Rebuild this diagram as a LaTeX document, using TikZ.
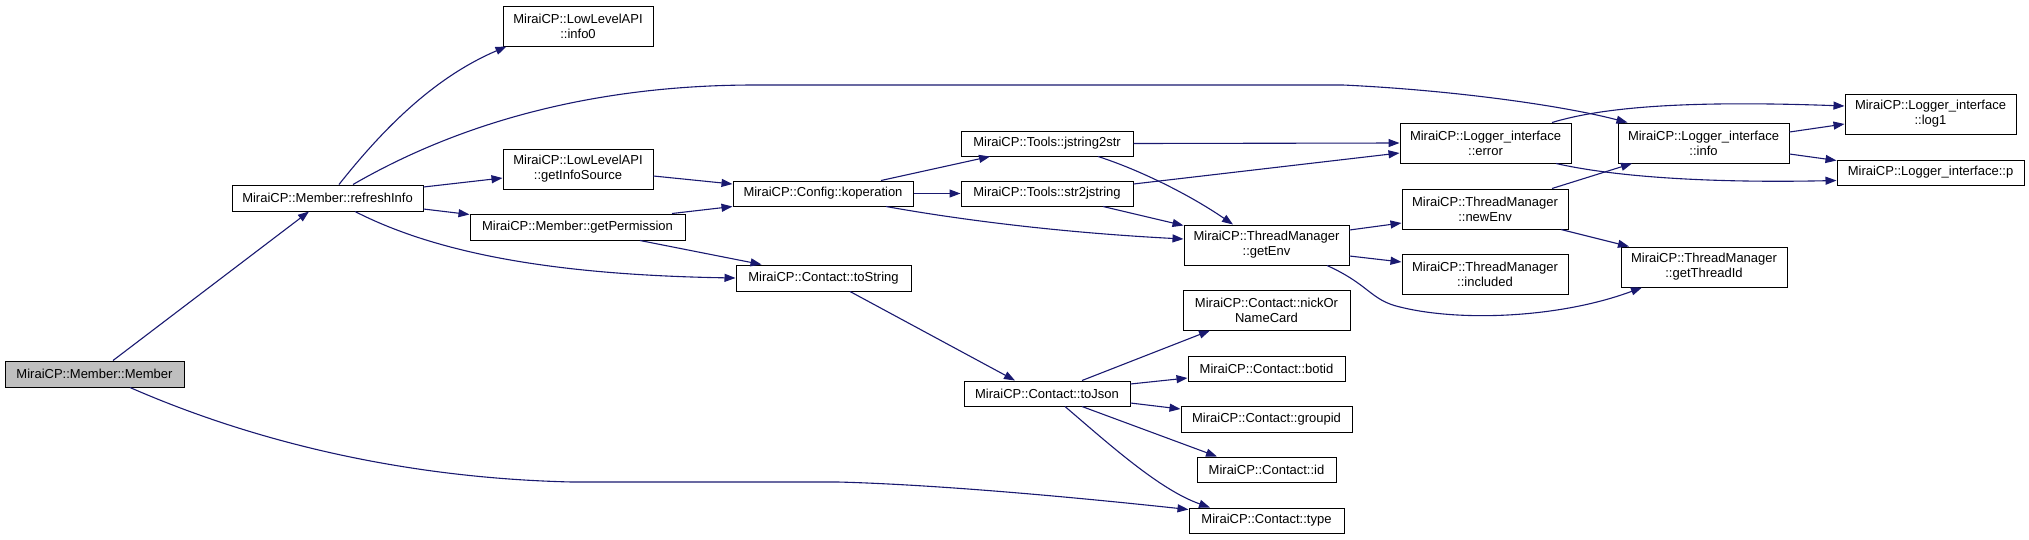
\documentclass[tikz,border=0pt]{standalone}
\usepackage{fontspec}
\setmainfont{Liberation Sans}
\usetikzlibrary{arrows.meta}
\definecolor{edgeblue}{HTML}{191970}
\definecolor{rootgray}{HTML}{BFBFBF}
\tikzset{
  fn/.style={draw=black, line width=1pt, fill=white, inner sep=0pt, align=center,
    font=\fontsize{13}{15}\selectfont},
  root/.style={fn, fill=rootgray},
  call/.style={draw=edgeblue, line width=1.1pt, -{Triangle[length=11pt,width=8pt]}, edgeblue},
}
\begin{document}
\begin{tikzpicture}[x=1pt,y=-1pt]
\useasboundingbox (0,0) rectangle (2029,539);
% nodes
\node[root, minimum width=179pt, minimum height=26pt] (mem) at (94.5,374) {MiraiCP::Member::Member};
\node[fn, minimum width=191pt, minimum height=26pt] (ref) at (327.5,198) {MiraiCP::Member::refreshInfo};
\node[fn, minimum width=150pt, minimum height=40pt] (info0) at (578,26) {MiraiCP::LowLevelAPI\\::info0};
\node[fn, minimum width=150pt, minimum height=40pt] (gis) at (578,169) {MiraiCP::LowLevelAPI\\::getInfoSource};
\node[fn, minimum width=215pt, minimum height=26pt] (perm) at (577.5,227) {MiraiCP::Member::getPermission};
\node[fn, minimum width=180pt, minimum height=25pt] (kop) at (823,193.5) {MiraiCP::Config::koperation};
\node[fn, minimum width=175pt, minimum height=26pt] (tostr) at (823.5,278) {MiraiCP::Contact::toString};
\node[fn, minimum width=172pt, minimum height=25pt] (j2s) at (1047,143.5) {MiraiCP::Tools::jstring2str};
\node[fn, minimum width=172pt, minimum height=25pt] (s2j) at (1047,193.5) {MiraiCP::Tools::str2jstring};
\node[fn, minimum width=166pt, minimum height=25pt] (tojson) at (1047,393.5) {MiraiCP::Contact::toJson};
\node[fn, minimum width=165pt, minimum height=40pt] (genv) at (1266.5,245) {MiraiCP::ThreadManager\\::getEnv};
\node[fn, minimum width=167pt, minimum height=40pt] (nick) at (1266.5,310) {MiraiCP::Contact::nickOr\\NameCard};
\node[fn, minimum width=157pt, minimum height=25pt] (botid) at (1266.5,368.5) {MiraiCP::Contact::botid};
\node[fn, minimum width=171pt, minimum height=26pt] (grp) at (1266.5,419) {MiraiCP::Contact::groupid};
\node[fn, minimum width=139pt, minimum height=25pt] (cid) at (1266.5,469.5) {MiraiCP::Contact::id};
\node[fn, minimum width=155pt, minimum height=25pt] (ctype) at (1266.5,520.5) {MiraiCP::Contact::type};
\node[fn, minimum width=171pt, minimum height=40pt] (err) at (1485.5,143) {MiraiCP::Logger\_interface\\::error};
\node[fn, minimum width=166pt, minimum height=40pt] (newenv) at (1485,209) {MiraiCP::ThreadManager\\::newEnv};
\node[fn, minimum width=166pt, minimum height=40pt] (incl) at (1485,274) {MiraiCP::ThreadManager\\::included};
\node[fn, minimum width=171pt, minimum height=40pt] (linfo) at (1703.5,143) {MiraiCP::Logger\_interface\\::info};
\node[fn, minimum width=166pt, minimum height=40pt] (gtid) at (1704,267) {MiraiCP::ThreadManager\\::getThreadId};
\node[fn, minimum width=171pt, minimum height=40pt] (log1) at (1930.5,114) {MiraiCP::Logger\_interface\\::log1};
\node[fn, minimum width=187pt, minimum height=25pt] (lp) at (1930.5,172.5) {MiraiCP::Logger\_interface::p};
% edges
\draw[call] ([shift={(18.5,0)}]mem.north) -- ([shift={(-18.5,0)}]ref.south);
\draw[call] ([shift={(35.5,0)}]mem.south) .. controls (250,440) and (400,478) .. (572,482) -- (838,482) .. controls (950,485) and (1100,500) .. ([shift={(0,2)}]ctype.north west);
\draw[call] ([shift={(11.5,0)}]ref.north) .. controls (390,120) and (440,75) .. ([shift={(4,0)}]info0.south west);
\draw[call] ([shift={(25.5,0)}]ref.north) .. controls (430,140) and (560,85) .. (755,85) -- (1343,85) .. controls (1450,90) and (1560,105) .. ([shift={(10,0)}]linfo.north west);
\draw[call] ([shift={(0,-11)}]ref.east) -- ([shift={(0,9)}]gis.west);
\draw[call] ([shift={(0,11)}]ref.east) -- ([shift={(0,1)}]perm.north west);
\draw[call] ([shift={(27.5,0)}]ref.south) .. controls (440,255) and (560,275) .. (tostr.west);
\draw[call] ([shift={(0,7)}]gis.east) -- ([shift={(0,-9.5)}]kop.west);
\draw[call] ([shift={(94.5,0)}]perm.north) -- (kop.south west);
\draw[call] ([shift={(62.5,0)}]perm.south) -- ([shift={(26,0)}]tostr.north west);
\draw[call] ([shift={(58,0)}]kop.north) -- ([shift={(-57,0)}]j2s.south);
\draw[call] (kop.east) -- (s2j.west);
\draw[call] ([shift={(63,0)}]kop.south) .. controls (950,218) and (1050,232) .. ([shift={(0,-6)}]genv.west);
\draw[call] (j2s.east) -- (err.west);
\draw[call] ([shift={(51,0)}]j2s.south) .. controls (1140,170) and (1190,195) .. ([shift={(-33.5,0)}]genv.north);
\draw[call] ([shift={(0,-9.5)}]s2j.east) -- ([shift={(0,10)}]err.west);
\draw[call] ([shift={(56,0)}]s2j.south) -- ([shift={(0,1)}]genv.north west);
\draw[call] ([shift={(0,-15)}]genv.east) -- ([shift={(0,14)}]newenv.west);
\draw[call] ([shift={(0,11)}]genv.east) -- ([shift={(0,-12)}]incl.west);
\draw[call] ([shift={(60.5,0)}]genv.south) .. controls (1370,285) and (1370,300) .. (1400,307) .. controls (1460,322) and (1560,318) .. ([shift={(-62,0)}]gtid.south);
\draw[call] ([shift={(26.5,0)}]tostr.south) -- ([shift={(-32,0)}]tojson.north);
\draw[call] ([shift={(35,0)}]tojson.north) -- ([shift={(-56.5,0)}]nick.south);
\draw[call] ([shift={(0,-9.5)}]tojson.east) -- ([shift={(0,9.5)}]botid.west);
\draw[call] ([shift={(0,9.5)}]tojson.east) -- ([shift={(0,-10)}]grp.west);
\draw[call] ([shift={(35,0)}]tojson.south) -- ([shift={(-49.5,0)}]cid.north);
\draw[call] ([shift={(18,0)}]tojson.south) .. controls (1110,445) and (1160,490) .. ([shift={(-56.5,0)}]ctype.north);
\draw[call] ([shift={(66.5,0)}]err.north) .. controls (1600,108) and (1680,100) .. ([shift={(0,-8)}]log1.west);
\draw[call] ([shift={(70.5,0)}]err.south) .. controls (1620,178) and (1720,183) .. ([shift={(0,8)}]lp.west);
\draw[call] ([shift={(0,-11)}]linfo.east) -- ([shift={(0,10)}]log1.west);
\draw[call] ([shift={(0,11)}]linfo.east) -- ([shift={(0,1)}]lp.north west);
\draw[call] ([shift={(67,0)}]newenv.north) -- ([shift={(-71.5,0)}]linfo.south);
\draw[call] ([shift={(76,0)}]newenv.south) -- ([shift={(-75,0)}]gtid.north);
\end{tikzpicture}
\end{document}
